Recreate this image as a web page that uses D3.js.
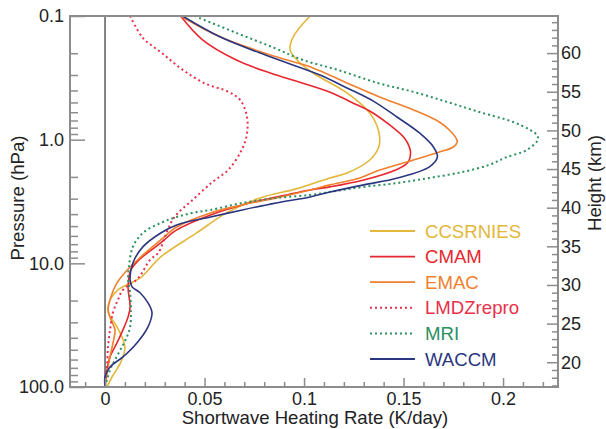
<!DOCTYPE html>
<html><head><meta charset="utf-8">
<script src="https://cdn.jsdelivr.net/npm/d3@7"></script>
<style>
html,body{margin:0;padding:0;background:#fff;}
text{font-family:"Liberation Sans",Arial,sans-serif;}
</style></head>
<body>
<svg id="chart" width="606" height="429"></svg>
<script>
// ---- data (pressure in hPa, heating rate in K/day) ----
const seriesNames = ["CCSRNIES","CMAM","EMAC","LMDZrepro","MRI","WACCM"];
const ccsrniesP = [0.1,0.148,0.188,0.227,0.289,0.419,0.608,0.76,0.95,1.15,1.46,1.86,2.04,2.5,2.96,3.91,5.68,8.87,13,16.4,19.8,23.8,27,32.6,47.4,62.7,83,100];
const ccsrniesV = [0.103,0.0945,0.093,0.0965,0.1045,0.1216,0.133,0.1365,0.138,0.1375,0.133,0.1216,0.113,0.096,0.078,0.061,0.046,0.028,0.018,0.0065,0.0025,0.0015,0.0025,0.006,0.010,0.008,0.0035,0.001];
const cmamP = [0.1,0.156,0.227,0.289,0.348,0.419,0.5,0.6,0.76,0.95,1.06,1.26,1.54,1.76,2.12,2.41,2.55,2.91,3.37,4.06,5.37,6.84,9.4,11.3,15.5,22.5,27.1,34.5,44,57,72.7,100];
const cmamV = [0.038,0.049,0.066,0.083,0.099,0.114,0.124,0.134,0.143,0.150,0.152,0.1535,0.152,0.146,0.130,0.113,0.103,0.086,0.069,0.053,0.036,0.028,0.017,0.013,0.0116,0.0126,0.0116,0.009,0.006,0.0025,0.001,0];
const emacP = [0.1,0.148,0.214,0.263,0.348,0.452,0.575,0.72,0.835,0.95,1.044,1.146,1.257,1.46,1.76,2.04,2.32,2.55,2.96,3.37,3.91,5.08,6.47,8.87,10.7,14.4,19.8,23.8,28.7,34.5,44,57,76.9,100];
const emacV = [0.038,0.058,0.086,0.1045,0.1216,0.138,0.155,0.168,0.173,0.176,0.177,0.175,0.168,0.155,0.138,0.128,0.113,0.103,0.086,0.069,0.053,0.036,0.028,0.018,0.0126,0.006,0.0025,0.0015,0.003,0.005,0.004,0.0025,0.001,0];
const lmdzP = [0.1,0.15,0.2,0.27,0.35,0.41,0.48,0.65,0.9,1.2,1.75,2.2,3.1,4.2,5.6,8.2,9.4,13.2,16.4,19.7,25,34.7,47,69,92.6,100];
const lmdzV = [0.0126,0.019,0.0287,0.0387,0.050,0.062,0.068,0.0713,0.0713,0.0688,0.062,0.054,0.0437,0.035,0.031,0.0268,0.0226,0.0166,0.009,0.0065,0.004,0.0025,0.0015,0.001,0.0,0];
const mriP = [0.1,0.137,0.181,0.227,0.273,0.348,0.411,0.496,0.597,0.719,0.835,0.916,1.0,1.21,1.4,1.6,1.82,2.04,2.24,2.41,2.6,2.8,2.96,3.25,3.7,3.91,4.22,4.71,5.68,7.36,10.7,13.6,17.3,25.1,32.6,39.3,47.4,60.4,72.7,87.7,100];
const mriV = [0.045,0.066,0.085,0.0995,0.117,0.137,0.155,0.172,0.188,0.205,0.2136,0.217,0.2175,0.212,0.201,0.193,0.180,0.163,0.147,0.130,0.116,0.103,0.086,0.069,0.053,0.044,0.036,0.028,0.019,0.014,0.012,0.0116,0.0126,0.013,0.0126,0.011,0.0085,0.005,0.0025,0.001,0];
const waccmP = [0.1,0.148,0.214,0.3,0.382,0.49,0.656,0.883,1.146,1.38,1.66,2.04,2.32,2.65,2.91,3.25,3.7,4.22,4.89,5.68,7.36,9.93,13.6,15.5,17.3,20.9,25.1,32.6,44,57.1,68.8,82.9,100];
const waccmV = [0.039,0.058,0.083,0.108,0.1216,0.135,0.1467,0.158,0.165,0.167,0.163,0.147,0.130,0.113,0.103,0.086,0.069,0.053,0.036,0.028,0.019,0.014,0.0126,0.0136,0.0176,0.0216,0.0236,0.0216,0.016,0.009,0.0025,0,0];

const xTicks = [0,0.05,0.1,0.15,0.2];
const xTickLabels = ["0","0.05","0.1","0.15","0.2"];
const pTicks = [0.1,1,10,100];
const pTickLabels = ["0.1","1.0","10.0","100.0"];
const hTicks = [20,25,30,35,40,45,50,55,60];

const colors = ["#e3b73a","#e8262e","#f07f2e","#e8304a","#2a9060","#2b3680"];
const dashed = [false,false,false,true,true,false];
const seriesP = [ccsrniesP,cmamP,emacP,lmdzP,mriP,waccmP];
const seriesV = [ccsrniesV,cmamV,emacV,lmdzV,mriV,waccmV];

// ---- layout ----
const L=70, R=558, T=16, B=387;
const svg = d3.select("#chart");
const x = d3.scaleLinear().domain([-0.0176,0.2276]).range([L,R]);
const y = d3.scaleLog().domain([0.1,100]).range([T,B]);
const h = d3.scaleLinear().domain([64.8,16.8]).range([T,B]);
const axisCol = "#8c8c8c";
const fs = "18px";
const fsBig = "18.6px";

// clip
svg.append("defs").append("clipPath").attr("id","clip")
  .append("rect").attr("x",L).attr("y",T).attr("width",R-L).attr("height",B-T);

// zero line
svg.append("line").attr("x1",x(0)).attr("x2",x(0)).attr("y1",T).attr("y2",B)
  .attr("stroke","#5a5a5a").attr("stroke-width",1.5);

// curves
const line = d3.line().x(d=>x(d[1])).y(d=>y(d[0])).curve(d3.curveCatmullRom.alpha(0.5));
const g = svg.append("g").attr("clip-path","url(#clip)");
seriesNames.forEach((n,i)=>{
  const pts = seriesP[i].map((p,j)=>[p,seriesV[i][j]]);
  g.append("path").datum(pts).attr("d",line).attr("fill","none")
   .attr("stroke",colors[i]).attr("stroke-width",dashed[i]?2:1.6)
   .attr("stroke-dasharray",dashed[i]?"2,3":null);
});

// axes
function style(sel){
  sel.select(".domain").remove();
  sel.selectAll(".tick line").attr("stroke",axisCol).attr("stroke-width",1.5);
  sel.selectAll(".tick text").attr("fill","#222").style("font-size",fs)
    .style("font-family","'Liberation Sans',Arial,sans-serif");
}
// left
const minorP = [];
[0.1,1,10].forEach(d=>{for(let k=2;k<=9;k++) minorP.push(d*k);});
svg.append("g").attr("transform",`translate(${L},0)`)
  .call(d3.axisLeft(y).tickValues(minorP).tickFormat("").tickSizeInner(-8).tickSizeOuter(0)).call(style);
svg.append("g").attr("transform",`translate(${L},0)`)
  .call(d3.axisLeft(y).tickValues(pTicks).tickFormat((d,i)=>pTickLabels[i]).tickSizeInner(-15).tickSizeOuter(0).tickPadding(6)).call(style);
// bottom
const minorX = d3.range(-1,23).map(k=>k/100).filter(v=>Math.round(v*100)%5!==0);
svg.append("g").attr("transform",`translate(0,${B})`)
  .call(d3.axisBottom(x).tickValues(minorX).tickFormat("").tickSizeInner(-5).tickSizeOuter(0)).call(style);
svg.append("g").attr("transform",`translate(0,${B})`)
  .call(d3.axisBottom(x).tickValues(xTicks).tickFormat((d,i)=>xTickLabels[i]).tickSizeInner(-9).tickSizeOuter(0).tickPadding(5)).call(style);
// right
const minorH = d3.range(17,65).filter(v=>v%5!==0);
svg.append("g").attr("transform",`translate(${R},0)`)
  .call(d3.axisRight(h).tickValues(minorH).tickFormat("").tickSizeInner(-6).tickSizeOuter(0)).call(style);
svg.append("g").attr("transform",`translate(${R},0)`)
  .call(d3.axisRight(h).tickValues(hTicks).tickFormat(d3.format("d")).tickSizeInner(-11).tickSizeOuter(0).tickPadding(3)).call(style);

// frame
svg.append("rect").attr("x",L).attr("y",T).attr("width",R-L).attr("height",B-T)
  .attr("fill","none").attr("stroke",axisCol).attr("stroke-width",2);

// titles
svg.append("text").attr("x",315).attr("y",424).attr("text-anchor","middle")
  .style("font-size",fsBig).attr("fill","#222").text("Shortwave Heating Rate (K/day)");
svg.append("text").attr("transform","translate(24,198) rotate(-90)").attr("text-anchor","middle")
  .style("font-size",fsBig).attr("fill","#222").text("Pressure (hPa)");
svg.append("text").attr("transform","translate(601,183) rotate(-90)").attr("text-anchor","middle")
  .style("font-size",fsBig).attr("fill","#222").text("Height (km)");

// legend
const lg = svg.append("g");
seriesNames.forEach((n,i)=>{
  const yy = 231 + i*25.6;
  lg.append("line").attr("x1",370).attr("x2",415).attr("y1",yy).attr("y2",yy)
    .attr("stroke",colors[i]).attr("stroke-width",dashed[i]?2:1.8)
    .attr("stroke-dasharray",dashed[i]?"2,3":null);
  lg.append("text").attr("x",425).attr("y",yy+6.5).style("font-size",fsBig)
    .attr("fill",colors[i]).text(n);
});
</script>
</body></html>
